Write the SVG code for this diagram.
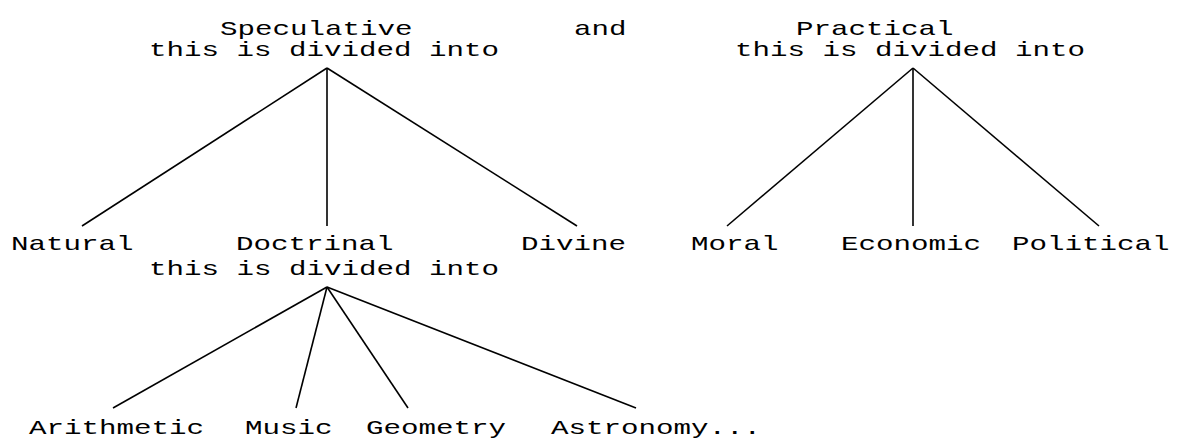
<svg xmlns="http://www.w3.org/2000/svg" width="1177" height="439" viewBox="0 0 1177 439">
<style>
text{font-family:"Liberation Mono","DejaVu Sans Mono",monospace;font-size:21px;fill:#000}
.e{stroke:#000;stroke-width:1.6;fill:none}
</style>
<rect width="1177" height="439" fill="#fff"/>
<g id="connectors">
<line class="e" x1="327" y1="68" x2="82" y2="226"/>
<line class="e" x1="327" y1="68" x2="327" y2="226"/>
<line class="e" x1="327" y1="68" x2="577" y2="226"/>
<line class="e" x1="913" y1="68" x2="727" y2="226"/>
<line class="e" x1="913" y1="68" x2="913" y2="226"/>
<line class="e" x1="913" y1="68" x2="1099" y2="226"/>
<line class="e" x1="327" y1="287" x2="113" y2="408"/>
<line class="e" x1="327" y1="287" x2="296" y2="408"/>
<line class="e" x1="327" y1="287" x2="408" y2="408"/>
<line class="e" x1="327" y1="287" x2="636" y2="408"/>
</g>
<g id="speculative">
<text x="220" y="35" textLength="192.5" lengthAdjust="spacingAndGlyphs">Speculative</text>
<text x="149" y="56" textLength="350" lengthAdjust="spacingAndGlyphs">this is divided into</text>
</g>
<g id="and">
<text x="574" y="35" textLength="52.5" lengthAdjust="spacingAndGlyphs">and</text>
</g>
<g id="practical">
<text x="796" y="35" textLength="157.5" lengthAdjust="spacingAndGlyphs">Practical</text>
<text x="735" y="56" textLength="350" lengthAdjust="spacingAndGlyphs">this is divided into</text>
</g>
<g id="natural"><text x="11" y="250" textLength="122.5" lengthAdjust="spacingAndGlyphs">Natural</text></g>
<g id="doctrinal">
<text x="236" y="250" textLength="157.5" lengthAdjust="spacingAndGlyphs">Doctrinal</text>
<text x="149" y="275" textLength="350" lengthAdjust="spacingAndGlyphs">this is divided into</text>
</g>
<g id="divine"><text x="521" y="250" textLength="105" lengthAdjust="spacingAndGlyphs">Divine</text></g>
<g id="moral"><text x="691" y="250" textLength="87.5" lengthAdjust="spacingAndGlyphs">Moral</text></g>
<g id="economic"><text x="841" y="250" textLength="140" lengthAdjust="spacingAndGlyphs">Economic</text></g>
<g id="political"><text x="1012" y="250" textLength="157.5" lengthAdjust="spacingAndGlyphs">Political</text></g>
<g id="arithmetic"><text x="29" y="434" textLength="175" lengthAdjust="spacingAndGlyphs">Arithmetic</text></g>
<g id="music"><text x="245" y="434" textLength="87.5" lengthAdjust="spacingAndGlyphs">Music</text></g>
<g id="geometry"><text x="366" y="434" textLength="140" lengthAdjust="spacingAndGlyphs">Geometry</text></g>
<g id="astronomy"><text x="551" y="434" textLength="210" lengthAdjust="spacingAndGlyphs">Astronomy...</text></g>
</svg>
